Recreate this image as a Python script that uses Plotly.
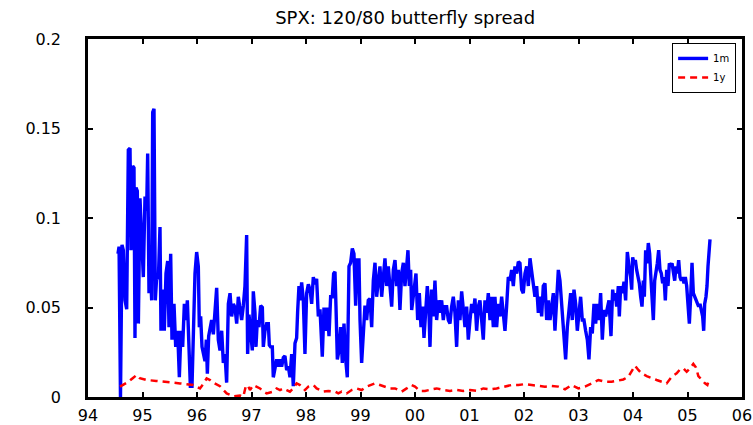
import plotly.graph_objects as go

# ---- data (decimal years, 94 = 1994) ----
years_1m = [
    94.550, 94.570, 94.596, 94.624, 94.648, 94.679, 94.710, 94.740, 94.771, 94.789,
    94.820, 94.844, 94.862, 94.881, 94.905, 94.924, 94.954, 94.985, 95.015, 95.046,
    95.076, 95.095, 95.119, 95.138, 95.168, 95.187, 95.211, 95.235, 95.260, 95.291,
    95.321, 95.339, 95.370, 95.400, 95.431, 95.462, 95.486, 95.517, 95.541, 95.578,
    95.609, 95.645, 95.676, 95.706, 95.737, 95.768, 95.798, 95.823, 95.853, 95.878,
    95.908, 95.933, 95.963, 95.994, 96.024, 96.043, 96.067, 96.092, 96.116, 96.147,
    96.171, 96.190, 96.214, 96.239, 96.269, 96.300, 96.330, 96.361, 96.391, 96.422,
    96.453, 96.483, 96.514, 96.544, 96.575, 96.606, 96.636, 96.667, 96.697, 96.728,
    96.758, 96.789,
    96.819, 96.850, 96.880, 96.911, 96.929, 96.954, 96.984, 97.015, 97.033, 97.064,
    97.082, 97.107, 97.137, 97.168, 97.199, 97.217, 97.247, 97.278, 97.309, 97.327,
    97.351, 97.382, 97.400, 97.431, 97.462, 97.492, 97.523, 97.553, 97.584, 97.614,
    97.645, 97.676, 97.706, 97.737, 97.767, 97.798, 97.828, 97.847, 97.871, 97.896,
    97.920, 97.951, 97.981, 98.012, 98.043, 98.073, 98.104, 98.134, 98.165, 98.195,
    98.226, 98.257, 98.287, 98.299, 98.330, 98.360, 98.391, 98.422, 98.452, 98.483,
    98.507, 98.532, 98.550, 98.575, 98.605, 98.636, 98.666, 98.697, 98.728, 98.758,
    98.789, 98.819, 98.850, 98.880, 98.911, 98.942, 98.972, 98.991, 99.021, 99.052,
    99.082, 99.113, 99.143, 99.174,
    99.205, 99.235, 99.266, 99.296, 99.327, 99.357, 99.388, 99.419, 99.449, 99.480,
    99.510, 99.541, 99.572, 99.602, 99.633, 99.663, 99.694, 99.724, 99.755, 99.786,
    99.816, 99.847, 99.871, 99.896, 99.920, 99.939, 99.957, 99.987, 100.018, 100.049,
    100.079, 100.110, 100.140, 100.165, 100.195, 100.226, 100.257, 100.275, 100.305, 100.336,
    100.366, 100.397, 100.428, 100.458, 100.489, 100.519, 100.550, 100.581, 100.611, 100.642,
    100.672, 100.703, 100.733, 100.764, 100.795, 100.825, 100.856, 100.886, 100.917, 100.948,
    100.978, 101.009, 101.039, 101.070, 101.100, 101.131, 101.162, 101.192, 101.223, 101.253,
    101.284, 101.315, 101.345, 101.376, 101.406, 101.437, 101.467, 101.498, 101.529, 101.559,
    101.590, 101.620, 101.651, 101.681, 101.712, 101.743,
    101.773, 101.804, 101.834, 101.865, 101.896, 101.926, 101.957, 101.987, 102.018, 102.049,
    102.079, 102.110, 102.140, 102.171, 102.201, 102.232, 102.263, 102.293, 102.324, 102.354,
    102.385, 102.416, 102.446, 102.477, 102.507, 102.538, 102.568, 102.599, 102.630, 102.660,
    102.691, 102.721, 102.740, 102.764, 102.795, 102.825, 102.856, 102.886, 102.917, 102.948,
    102.978, 103.009, 103.039, 103.070, 103.100, 103.131, 103.162, 103.192, 103.223, 103.253,
    103.284, 103.315, 103.345, 103.376, 103.406, 103.437, 103.467, 103.498, 103.529, 103.559,
    103.596, 103.609, 103.627, 103.651, 103.676, 103.700, 103.731, 103.749, 103.774, 103.804,
    103.835, 103.865, 103.896, 103.927, 103.957, 103.976, 103.994, 104.018, 104.043, 104.067,
    104.092, 104.116, 104.141, 104.165, 104.190, 104.208, 104.232, 104.257, 104.281, 104.306,
    104.324, 104.349, 104.373, 104.398, 104.422, 104.446, 104.471, 104.495, 104.520, 104.544,
    104.569, 104.593, 104.618, 104.642, 104.667, 104.691, 104.716, 104.740, 104.765, 104.789,
    104.813, 104.838, 104.862, 104.887, 104.911, 104.936, 104.960, 104.985, 105.009, 105.034,
    105.058, 105.083, 105.107, 105.131, 105.156, 105.180, 105.205, 105.229, 105.254, 105.278,
    105.297, 105.315, 105.339, 105.358, 105.376, 105.394, 105.413,
]
values_1m = [
    0.080, 0.084, 0.000, 0.085, 0.082, 0.054, 0.049, 0.138, 0.139, 0.082,
    0.129, 0.128, 0.033, 0.117, 0.115, 0.041, 0.111, 0.092, 0.067, 0.112,
    0.104, 0.136, 0.058, 0.076, 0.054, 0.159, 0.161, 0.054, 0.067, 0.066,
    0.095, 0.037, 0.060, 0.037, 0.069, 0.076, 0.039, 0.080, 0.032, 0.052,
    0.028, 0.037, 0.011, 0.037, 0.028, 0.052, 0.043, 0.054, 0.020, 0.006,
    0.006, 0.032, 0.069, 0.081, 0.073, 0.039, 0.045, 0.028, 0.024, 0.020,
    0.032, 0.013, 0.034, 0.039, 0.043, 0.035, 0.052, 0.061, 0.032, 0.026,
    0.037, 0.019, 0.024, 0.008, 0.052, 0.058, 0.045, 0.052, 0.050, 0.041,
    0.056, 0.048,
    0.043, 0.051, 0.062, 0.0905, 0.024, 0.046, 0.037, 0.026, 0.059, 0.047,
    0.028, 0.043, 0.039, 0.051, 0.050, 0.028, 0.037, 0.041, 0.041, 0.029,
    0.028, 0.028, 0.011, 0.017, 0.021, 0.017, 0.021, 0.017, 0.022, 0.023,
    0.015, 0.017, 0.011, 0.024, 0.006, 0.030, 0.033, 0.048, 0.062, 0.054,
    0.064, 0.054, 0.024, 0.058, 0.063, 0.060, 0.052, 0.067, 0.063, 0.066,
    0.045, 0.049, 0.034, 0.0225, 0.050, 0.037, 0.050, 0.034, 0.056, 0.056,
    0.069, 0.070, 0.051, 0.021, 0.026, 0.039, 0.019, 0.041, 0.021, 0.011,
    0.073, 0.075, 0.083, 0.080, 0.051, 0.0765, 0.0765, 0.043, 0.019, 0.034,
    0.051, 0.043, 0.054, 0.055,
    0.039, 0.065, 0.075, 0.056, 0.067, 0.073, 0.056, 0.069, 0.0775, 0.062,
    0.073, 0.062, 0.0505, 0.071, 0.0765, 0.062, 0.071, 0.0486, 0.069, 0.075,
    0.062, 0.073, 0.082, 0.062, 0.071, 0.0486, 0.054, 0.062, 0.069, 0.043,
    0.058, 0.039, 0.0505, 0.033, 0.0505, 0.062, 0.047, 0.028, 0.060, 0.045,
    0.065, 0.043, 0.054, 0.047, 0.054, 0.043, 0.0505, 0.0505, 0.043, 0.041,
    0.0505, 0.056, 0.047, 0.028, 0.054, 0.043, 0.059, 0.0486, 0.039, 0.0505,
    0.032, 0.043, 0.052, 0.047, 0.055, 0.037, 0.0505, 0.054, 0.041, 0.032,
    0.054, 0.047, 0.058, 0.043, 0.056, 0.039, 0.056, 0.039, 0.052, 0.045,
    0.056, 0.047, 0.037, 0.0505, 0.067, 0.065,
    0.071, 0.062, 0.073, 0.069, 0.0756, 0.0747, 0.060, 0.058, 0.069, 0.073,
    0.062, 0.0775, 0.071, 0.062, 0.056, 0.062, 0.047, 0.056, 0.045, 0.062,
    0.0635, 0.043, 0.054, 0.043, 0.0505, 0.058, 0.037, 0.056, 0.071, 0.065,
    0.052, 0.039, 0.034, 0.021, 0.039, 0.047, 0.058, 0.043, 0.060, 0.052,
    0.037, 0.047, 0.056, 0.043, 0.043, 0.037, 0.032, 0.021, 0.039, 0.0355,
    0.052, 0.041, 0.052, 0.043, 0.058, 0.032, 0.0486, 0.045, 0.0505, 0.054,
    0.034, 0.052, 0.060, 0.054, 0.058, 0.0505, 0.062, 0.045, 0.062, 0.058,
    0.0644, 0.054, 0.081, 0.073, 0.067, 0.060, 0.078, 0.0747, 0.0765, 0.071,
    0.067, 0.0635, 0.056, 0.0505, 0.065, 0.056, 0.082, 0.0747, 0.086, 0.080,
    0.069, 0.058, 0.043, 0.065, 0.069, 0.0747, 0.082, 0.071, 0.069, 0.0635,
    0.067, 0.054, 0.071, 0.062, 0.0747, 0.073, 0.0747, 0.069, 0.065, 0.073,
    0.069, 0.0765, 0.067, 0.065, 0.067, 0.0635, 0.067, 0.062, 0.054, 0.041,
    0.056, 0.075, 0.058, 0.056, 0.054, 0.052, 0.0505, 0.052, 0.0486, 0.045,
    0.037, 0.052, 0.056, 0.062, 0.073, 0.084, 0.088,
]

years_1y = [
    94.587, 94.680, 94.740, 94.820, 94.893, 94.950, 95.076, 95.250, 95.443, 95.688,
    95.933, 96.055, 96.120, 96.177, 96.240, 96.300, 96.422, 96.544, 96.667, 96.789,
    96.850, 96.893, 96.929, 96.972, 97.033, 97.095, 97.156, 97.217, 97.278, 97.400,
    97.462, 97.523, 97.584, 97.645, 97.706, 97.767, 97.828, 97.890, 97.981, 98.043,
    98.134, 98.195, 98.257, 98.318, 98.410, 98.532, 98.593, 98.654, 98.746, 98.838,
    98.929, 99.021, 99.113, 99.205, 99.266, 99.357, 99.449, 99.541, 99.633, 99.755,
    99.847, 99.939, 100.000, 100.091, 100.183, 100.275, 100.397, 100.519, 100.642, 100.764,
    100.886, 101.009, 101.131, 101.253, 101.376, 101.498, 101.620, 101.773, 101.896, 102.018,
    102.140, 102.263, 102.385, 102.507, 102.630, 102.752, 102.874, 102.997, 103.119, 103.241,
    103.364, 103.486, 103.608, 103.700, 103.823, 103.914, 103.976, 104.037, 104.098, 104.159,
    104.251, 104.343, 104.434, 104.526, 104.618, 104.709, 104.801, 104.862, 104.924, 104.985,
    105.046, 105.107, 105.156, 105.199, 105.260, 105.321, 105.364, 105.401,
]
values_1y = [
    0.0058, 0.0075, 0.0085, 0.0105, 0.0123, 0.0105, 0.0095, 0.0090, 0.0085, 0.0076,
    0.0067, 0.0048, 0.0075, 0.0104, 0.0095, 0.0080, 0.0060, 0.0020, 0.0004, 0.0008,
    0.0002, 0.0058, 0.0067, 0.0039, 0.0067, 0.0058, 0.0048, 0.0030, 0.0020, 0.0030,
    0.0048, 0.0039, 0.0048, 0.0039, 0.0030, 0.0048, 0.0076, 0.0067, 0.0039, 0.0058,
    0.0067, 0.0048, 0.0039, 0.0030, 0.0034, 0.0030, 0.0020, 0.0030, 0.0020, 0.0039,
    0.0048, 0.0039, 0.0058, 0.0067, 0.0076, 0.0067, 0.0058, 0.0048, 0.0048, 0.0030,
    0.0048, 0.0067, 0.0058, 0.0034, 0.0034, 0.0039, 0.0048, 0.0039, 0.0034, 0.0039,
    0.0034, 0.0039, 0.0034, 0.0048, 0.0043, 0.0048, 0.0058, 0.0067, 0.0067, 0.0072,
    0.0067, 0.0062, 0.0058, 0.0062, 0.0058, 0.0043, 0.0067, 0.0048, 0.0058, 0.0076,
    0.0095, 0.0085, 0.0085, 0.0090, 0.0098, 0.0113, 0.0141, 0.0175, 0.0151, 0.0132,
    0.0117, 0.0104, 0.0095, 0.0085, 0.0076, 0.0113, 0.0132, 0.0154, 0.0160, 0.0141,
    0.0160, 0.0185, 0.0165, 0.0117, 0.0095, 0.0076, 0.0067, 0.0104,
]

x_tick_vals = [94, 95, 96, 97, 98, 99, 100, 101, 102, 103, 104, 105, 106]
x_tick_text = ["94", "95", "96", "97", "98", "99", "00", "01", "02", "03", "04", "05", "06"]
y_tick_vals = [0, 0.05, 0.1, 0.15, 0.2]
y_tick_text = ["0", "0.05", "0.1", "0.15", "0.2"]

FONT = "DejaVu Sans"

fig = go.Figure()
fig.add_trace(go.Scatter(
    x=years_1m, y=values_1m, mode="lines", name="1m",
    line=dict(color="#0000ff", width=3.4),
))
fig.add_trace(go.Scatter(
    x=years_1y, y=values_1y, mode="lines", name="1y",
    line=dict(color="#ff0000", width=2.5, dash="7px,5px"),
))

axis_common = dict(
    showline=True, linecolor="black", linewidth=2.5, mirror="ticks",
    ticks="inside", ticklen=5, tickwidth=1.8, tickcolor="black",
    showgrid=False, zeroline=False, automargin=False,
    tickfont=dict(family=FONT, size=16, color="black"),
)

fig.update_layout(
    width=753, height=425,
    margin=dict(l=88, r=11, t=39, b=28, autoexpand=False),
    paper_bgcolor="white", plot_bgcolor="white",
    font=dict(family=FONT, color="black"),
    title=dict(text="SPX: 120/80 butterfly spread", x=0.538, xanchor="center",
               y=0.958, yanchor="middle", automargin=False,
               font=dict(family=FONT, size=18, color="black")),
    xaxis=dict(range=[94, 106], tickvals=x_tick_vals, ticktext=x_tick_text,
               ticklabelstandoff=2, **axis_common),
    yaxis=dict(range=[0, 0.2], tickvals=y_tick_vals, ticktext=y_tick_text,
               ticklabelstandoff=21, **axis_common),
    showlegend=True,
    legend=dict(x=0.991, xanchor="right", y=0.989, yanchor="top",
                bordercolor="black", borderwidth=1, bgcolor="white",
                font=dict(family=FONT, size=10, color="black"),
                tracegroupgap=0, itemwidth=30),
)

fig.write_html(
    "out.html",
    config={"displayModeBar": False},
    post_script="document.body.style.margin='0';document.body.style.overflow='hidden';",
)
